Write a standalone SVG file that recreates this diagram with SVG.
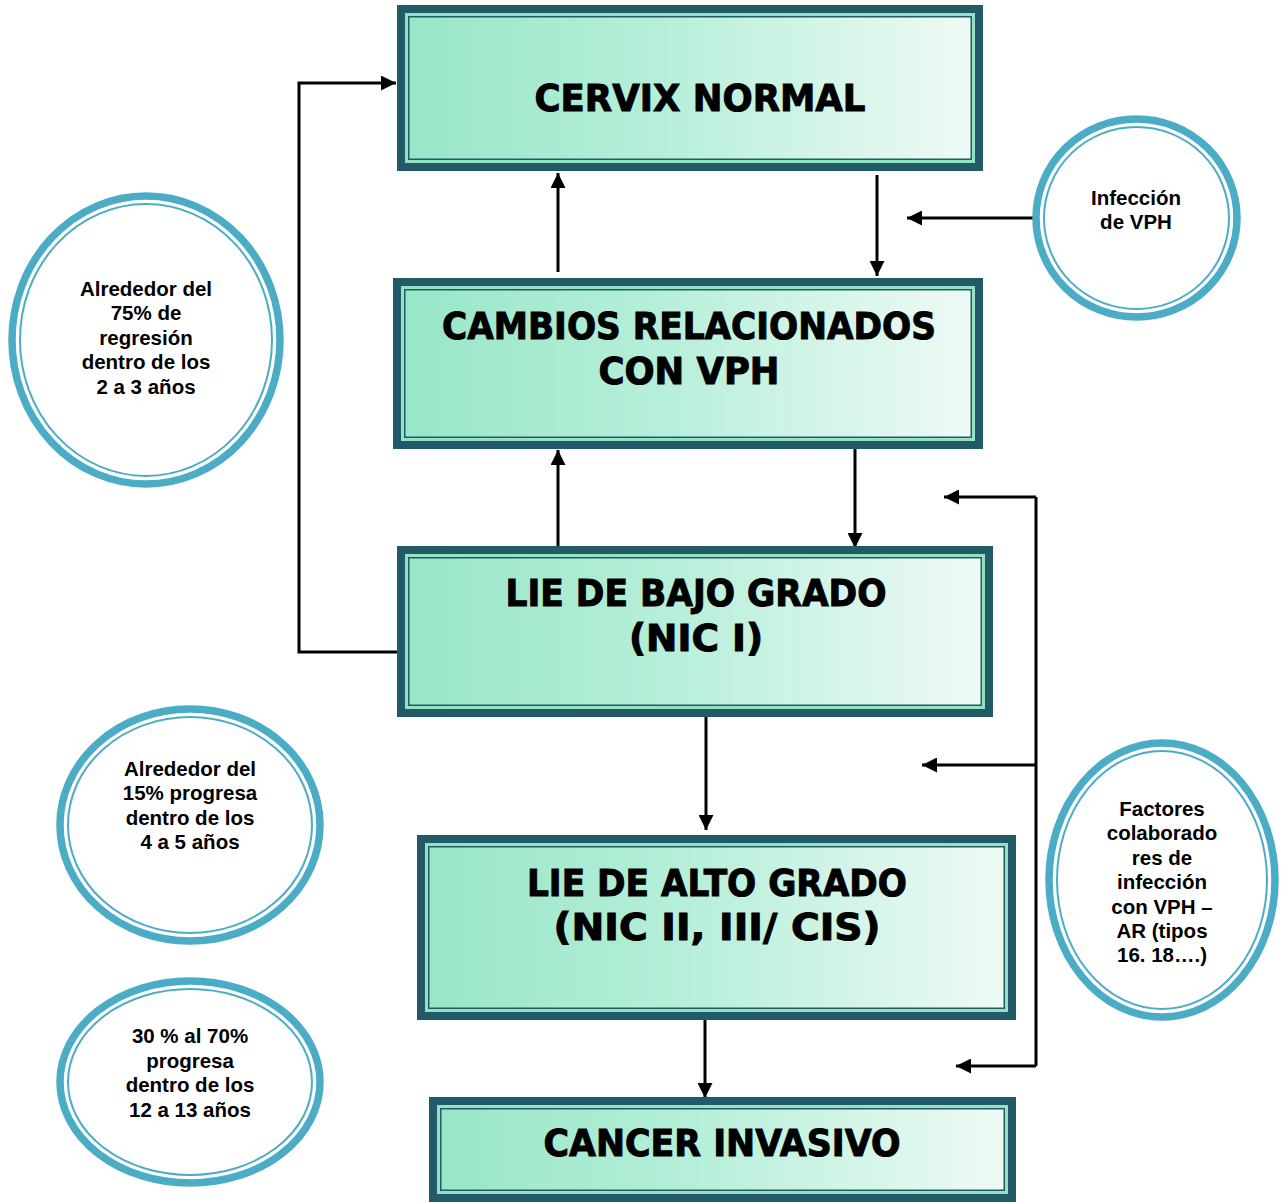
<svg xmlns="http://www.w3.org/2000/svg" width="1285" height="1202" viewBox="0 0 1285 1202">
<defs>
<linearGradient id="g" x1="0" y1="0" x2="1" y2="0">
<stop offset="0" stop-color="#98E6C8"/>
<stop offset="0.45" stop-color="#B6EFD9"/>
<stop offset="1" stop-color="#EFFAF5"/>
</linearGradient>
<marker id="ah" viewBox="0 0 10 10" refX="10" refY="5" markerWidth="6" markerHeight="5" markerUnits="strokeWidth" orient="auto">
<path d="M0,0 L10,5 L0,10 z" fill="#000"/>
</marker>
<style>
.frame{fill:#235A67}
.stripe{fill:#93E2C4}
.fill{fill:url(#g)}
.bt{font-family:"DejaVu Sans",Verdana,sans-serif;font-weight:bold;fill:#000;stroke:#000;stroke-width:1;text-anchor:middle}
.ring{fill:#fff;stroke:#4BACC6;stroke-width:7.5}
.ring2{fill:none;stroke:#4BACC6;stroke-width:2}
.ct{font-family:"Liberation Sans",Arial,sans-serif;font-weight:bold;font-size:20.5px;fill:#000;text-anchor:middle}
.c{fill:none;stroke:#000;stroke-width:3}
</style>
</defs>

<g id="connectors">
<path class="c" d="M397,652 H299 V83 H396" marker-end="url(#ah)"/>
<path class="c" d="M558,272 V173" marker-end="url(#ah)"/>
<path class="c" d="M877,175 V276" marker-end="url(#ah)"/>
<path class="c" d="M1035,218 H907" marker-end="url(#ah)"/>
<path class="c" d="M558,557 V450" marker-end="url(#ah)"/>
<path class="c" d="M855,445 V548" marker-end="url(#ah)"/>
<path class="c" d="M706,712 V830" marker-end="url(#ah)"/>
<path class="c" d="M705,1014 V1098" marker-end="url(#ah)"/>
<path class="c" d="M1036,497 V1066"/>
<path class="c" d="M1036,497 H944" marker-end="url(#ah)"/>
<path class="c" d="M1036,765 H922" marker-end="url(#ah)"/>
<path class="c" d="M1036,1066 H956" marker-end="url(#ah)"/>
</g>

<g id="cervix-normal">
<rect class="frame" x="397" y="5" width="586" height="166"/>
<rect class="stripe" x="405" y="13" width="570" height="150"/>
<rect class="frame" x="408" y="16" width="564" height="144"/>
<rect class="fill" x="409.5" y="17.5" width="561" height="141"/>
<text class="bt" x="700" y="111" font-size="37" textLength="331" lengthAdjust="spacingAndGlyphs">CERVIX  NORMAL</text>
</g>

<g id="cambios">
<rect class="frame" x="393" y="278" width="590" height="171"/>
<rect class="stripe" x="401" y="286" width="574" height="155"/>
<rect class="frame" x="404" y="289" width="568" height="149"/>
<rect class="fill" x="405.5" y="290.5" width="565" height="146"/>
<text class="bt" x="689" y="339" font-size="37" textLength="494" lengthAdjust="spacingAndGlyphs">CAMBIOS RELACIONADOS</text>
<text class="bt" x="689" y="384" font-size="37" textLength="181" lengthAdjust="spacingAndGlyphs">CON  VPH</text>
</g>

<g id="lie-bajo">
<rect class="frame" x="397" y="546" width="596" height="171"/>
<rect class="stripe" x="405" y="554" width="580" height="155"/>
<rect class="frame" x="408" y="557" width="574" height="149"/>
<rect class="fill" x="409.5" y="558.5" width="571" height="146"/>
<text class="bt" x="696" y="606" font-size="37" textLength="381" lengthAdjust="spacingAndGlyphs">LIE DE BAJO GRADO</text>
<text class="bt" x="696" y="651" font-size="37" textLength="134" lengthAdjust="spacingAndGlyphs">(NIC I)</text>
</g>

<g id="lie-alto">
<rect class="frame" x="417" y="835" width="599" height="185"/>
<rect class="stripe" x="425" y="843" width="583" height="169"/>
<rect class="frame" x="428" y="846" width="577" height="163"/>
<rect class="fill" x="429.5" y="847.5" width="574" height="160"/>
<text class="bt" x="717" y="896" font-size="37" textLength="380" lengthAdjust="spacingAndGlyphs">LIE DE ALTO GRADO</text>
<text class="bt" x="717" y="940" font-size="37" textLength="327" lengthAdjust="spacingAndGlyphs">(NIC II, III/ CIS)</text>
</g>

<g id="cancer-invasivo">
<rect class="frame" x="429" y="1097" width="587" height="105"/>
<rect class="stripe" x="437" y="1105" width="571" height="89"/>
<rect class="frame" x="440" y="1108" width="565" height="83"/>
<rect class="fill" x="441.5" y="1109.5" width="562" height="80"/>
<text class="bt" x="722" y="1156" font-size="37" textLength="357" lengthAdjust="spacingAndGlyphs">CANCER INVASIVO</text>
</g>

<g id="infeccion-vph">
<ellipse class="ring" cx="1136.5" cy="218" rx="100.5" ry="99"/>
<ellipse class="ring2" cx="1136.5" cy="218" rx="92.5" ry="91"/>
<text class="ct" x="1136" y="205">Infección</text>
<text class="ct" x="1136" y="229">de VPH</text>
</g>

<g id="regresion-75">
<ellipse class="ring" cx="146" cy="340" rx="134" ry="144"/>
<ellipse class="ring2" cx="146" cy="340" rx="126" ry="136"/>
<text class="ct" x="146" y="296">Alrededor del</text>
<text class="ct" x="146" y="320">75% de</text>
<text class="ct" x="146" y="345">regresión</text>
<text class="ct" x="146" y="369">dentro de los</text>
<text class="ct" x="146" y="394">2 a 3 años</text>
</g>

<g id="progresa-15">
<ellipse class="ring" cx="190" cy="825" rx="130" ry="116"/>
<ellipse class="ring2" cx="190" cy="825" rx="122" ry="108"/>
<text class="ct" x="190" y="776">Alrededor del</text>
<text class="ct" x="190" y="800">15% progresa</text>
<text class="ct" x="190" y="825">dentro de los</text>
<text class="ct" x="190" y="849">4 a 5 años</text>
</g>

<g id="progresa-30-70">
<ellipse class="ring" cx="190" cy="1082" rx="130" ry="101"/>
<ellipse class="ring2" cx="190" cy="1082" rx="122" ry="93"/>
<text class="ct" x="190" y="1043">30 % al 70%</text>
<text class="ct" x="190" y="1068">progresa</text>
<text class="ct" x="190" y="1092">dentro de los</text>
<text class="ct" x="190" y="1117">12 a 13 años</text>
</g>

<g id="factores">
<ellipse class="ring" cx="1162" cy="880" rx="113" ry="137"/>
<ellipse class="ring2" cx="1162" cy="880" rx="105" ry="129"/>
<text class="ct" x="1162" y="816">Factores</text>
<text class="ct" x="1162" y="840">colaborado</text>
<text class="ct" x="1162" y="865">res de</text>
<text class="ct" x="1162" y="889">infección</text>
<text class="ct" x="1162" y="914">con VPH –</text>
<text class="ct" x="1162" y="938">AR (tipos</text>
<text class="ct" x="1162" y="962">16. 18….)</text>
</g>
</svg>
